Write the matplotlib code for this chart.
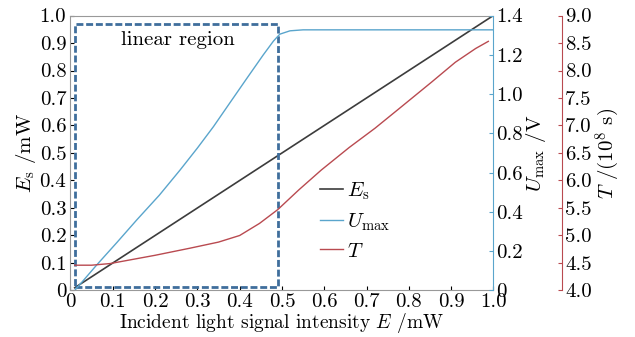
import matplotlib
matplotlib.use("Agg")
import matplotlib.pyplot as plt
import numpy as np

plt.rcParams["font.family"] = "serif"
plt.rcParams["font.serif"] = ["cmr10"]
plt.rcParams["mathtext.fontset"] = "cm"
plt.rcParams["axes.formatter.use_mathtext"] = True

# E_s (mW) vs incident intensity E (mW)
e_x = [0.01, 1.0]
e_s = [0.01, 1.0]

# U_max (V)
u_x = [0.01, 0.062, 0.11, 0.157, 0.21, 0.259, 0.3, 0.338, 0.38, 0.417, 0.456,
       0.48, 0.495, 0.519, 0.55, 0.7, 1.0]
u_max = [0.0, 0.13, 0.245, 0.36, 0.485, 0.613, 0.725, 0.834, 0.965, 1.08, 1.2,
         1.27, 1.305, 1.322, 1.327, 1.327, 1.327]

# T (10^8 s)
t_x = [0.01, 0.05, 0.094, 0.2, 0.283, 0.35, 0.4, 0.447, 0.49, 0.54, 0.593, 0.659,
       0.72, 0.776, 0.854, 0.91, 0.958, 0.988]
t_val = [4.46, 4.46, 4.49, 4.64, 4.77, 4.88, 5.0, 5.22, 5.47, 5.83, 6.19, 6.6,
         6.95, 7.3, 7.79, 8.15, 8.4, 8.53]

# linear region box (x0, x1, y0, y1)
box = [0.01, 0.49, 0.014, 0.97]

c_es = "#3c3c3c"
c_u = "#5aa5cc"
c_t = "#b94a50"
fs = 15

fig = plt.figure(figsize=(6.35, 3.37), dpi=100)
ax = fig.add_axes([0.111, 0.138, 0.666, 0.816])
ax2 = ax.twinx()
ax3 = ax.twinx()
ax3.spines["right"].set_position(("axes", 1.163))

l1, = ax.plot(e_x, e_s, color=c_es, lw=1.2, label=r"$E_{\rm s}$")
l2, = ax2.plot(u_x, u_max, color=c_u, lw=1.0, label=r"$U_{\rm max}$")
l3, = ax3.plot(t_x, t_val, color=c_t, lw=1.0, label=r"$T$")

ax.plot([box[0], box[1], box[1], box[0], box[0]],
        [box[2], box[2], box[3], box[3], box[2]],
        color="#3f6e9c", lw=2.0, ls=(0, (2.5, 1)))
ax.text(0.253, 0.911, "linear region", fontsize=fs, ha="center", va="center")

ax.set_xlim(0, 1.0)
ax.set_ylim(0, 1.0)
ax2.set_ylim(0, 1.4)
ax3.set_ylim(4.0, 9.0)

ax.set_xticks(np.arange(0, 1.01, 0.1))
ax.set_xticklabels(["0"] + ["%.1f" % v for v in np.arange(0.1, 1.01, 0.1)])
ax.set_yticks(np.arange(0, 1.01, 0.1))
ax.set_yticklabels(["0"] + ["%.1f" % v for v in np.arange(0.1, 1.01, 0.1)])
ax2.set_yticks(np.arange(0, 1.41, 0.2))
ax2.set_yticklabels(["0"] + ["%.1f" % v for v in np.arange(0.2, 1.41, 0.2)])
ax3.set_yticks(np.arange(4.0, 9.01, 0.5))
ax3.set_yticklabels(["%.1f" % v for v in np.arange(4.0, 9.01, 0.5)])

for a in (ax, ax2, ax3):
    a.tick_params(direction="in", length=3, labelsize=fs, pad=2)
ax.tick_params(axis="y", pad=3)

for s in ["left", "top", "bottom"]:
    ax.spines[s].set_color("#999999")
ax.spines["right"].set_visible(False)
ax2.spines["right"].set_color(c_u)
ax2.spines["left"].set_visible(False)
ax2.spines["top"].set_visible(False)
ax2.spines["bottom"].set_visible(False)
ax2.tick_params(axis="y", colors=c_u, labelcolor="black")
ax3.spines["right"].set_color(c_t)
for s in ["left", "top", "bottom"]:
    ax3.spines[s].set_visible(False)
ax3.tick_params(axis="y", colors=c_t, labelcolor="black")

ax.set_xlabel(r"Incident light signal intensity $E$ /mW", fontsize=14, labelpad=0)
ax.set_ylabel(r"$E_{\rm s}$ /mW", fontsize=fs, labelpad=1)
ax2.set_ylabel(r"$U_{\rm max}$ /V", fontsize=fs, labelpad=1)
ax3.set_ylabel(r"$T$ /(10$^8$ s)", fontsize=fs, labelpad=1)

ax.legend(handles=[l1, l2, l3], loc="center left", bbox_to_anchor=(0.545, 0.255),
          frameon=False, fontsize=fs, handlelength=1.1, handletextpad=0.2,
          labelspacing=0.45)

fig.savefig("out.png", dpi=100)
